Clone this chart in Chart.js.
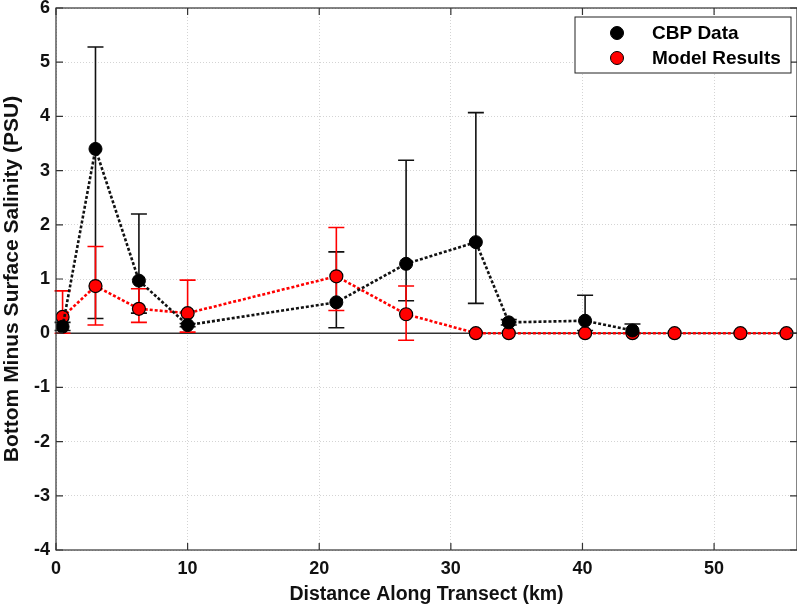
<!DOCTYPE html>
<html>
<head>
<meta charset="utf-8">
<script src="https://cdn.jsdelivr.net/npm/chart.js@4.4.0/dist/chart.umd.min.js"></script>
<style>
  html, body { margin: 0; padding: 0; background: #fff; }
  #wrap { width: 797px; height: 606px; }
</style>
</head>
<body>
<div id="wrap"><canvas id="salinityChart" width="797" height="606"></canvas></div>
<script>
// CBP observations
const cbpDistance = [0.5, 3.0, 6.3, 10.0, 21.3, 26.6, 31.9, 34.4, 40.2, 43.8];
const cbpValue    = [0.12, 3.40, 0.97, 0.15, 0.57, 1.28, 1.68, 0.20, 0.23, 0.05];
const cbpLow      = [0.05, 0.27, 0.37, 0.12, 0.10, 0.60, 0.55, 0.15, 0.05, 0.00];
const cbpHigh     = [0.20, 5.28, 2.20, 0.18, 1.50, 3.19, 4.07, 0.25, 0.70, 0.17];

// Model output
const modelDistance = [0.5, 3.0, 6.3, 10.0, 21.3, 26.6, 31.9, 34.4, 40.2, 43.8, 47.0, 52.0, 55.5];
const modelValue    = [0.30, 0.87, 0.45, 0.37, 1.05, 0.35, 0.00, 0.00, 0.00, 0.00, 0.00, 0.00, 0.00];
const modelLow      = [0.00, 0.15, 0.20, 0.02, 0.42, -0.13, 0, 0, 0, 0, 0, 0, 0];
const modelHigh     = [0.78, 1.60, 0.82, 0.98, 1.95, 0.87, 0, 0, 0, 0, 0, 0, 0];

const xTicks = [0, 10, 20, 30, 40, 50];
const yTicks = [-4, -3, -2, -1, 0, 1, 2, 3, 4, 5, 6];

const toPoints = (xs, ys) => xs.map((x, i) => ({ x: x, y: ys[i] }));

// zero line and error bars with caps, drawn through the chart scales
const errorBars = {
    id: 'errorBars',
    beforeDatasetsDraw(chart) {
        const ctx = chart.ctx;
        const a = chart.chartArea;
        const xs = chart.scales.x, ys = chart.scales.y;
        ctx.save();
        const y0 = ys.getPixelForValue(0);
        ctx.strokeStyle = '#333';
        ctx.lineWidth = 1.6;
        ctx.beginPath();
        ctx.moveTo(a.left, y0); ctx.lineTo(a.right, y0);
        ctx.stroke();
        chart.data.datasets.forEach(ds => {
            if (!ds.errLow) return;
            ctx.strokeStyle = ds.errColor;
            ctx.lineWidth = 1.6;
            ds.data.forEach((p, i) => {
                const lo = ds.errLow[i], hi = ds.errHigh[i];
                if (hi - lo < 0.01) return;
                const px = xs.getPixelForValue(p.x);
                const yl = ys.getPixelForValue(lo);
                const yh = ys.getPixelForValue(hi);
                ctx.beginPath();
                ctx.moveTo(px, yl); ctx.lineTo(px, yh);
                ctx.moveTo(px - 8, yl); ctx.lineTo(px + 8, yl);
                ctx.moveTo(px - 8, yh); ctx.lineTo(px + 8, yh);
                ctx.stroke();
            });
        });
        ctx.restore();
    }
};

// box around the axes plus inward tick marks and the legend box
const frameAndLegend = {
    id: 'frameAndLegend',
    afterDraw(chart) {
        const ctx = chart.ctx;
        const a = chart.chartArea;
        const xs = chart.scales.x, ys = chart.scales.y;
        ctx.save();
        ctx.strokeStyle = '#333';
        ctx.lineWidth = 1.2;
        ctx.strokeRect(a.left, a.top, a.right - a.left, a.bottom - a.top);
        ctx.beginPath();
        xTicks.forEach(v => {
            const px = xs.getPixelForValue(v);
            ctx.moveTo(px, a.bottom); ctx.lineTo(px, a.bottom - 7);
            ctx.moveTo(px, a.top); ctx.lineTo(px, a.top + 7);
        });
        yTicks.forEach(v => {
            const py = ys.getPixelForValue(v);
            ctx.moveTo(a.left, py); ctx.lineTo(a.left + 7, py);
            ctx.moveTo(a.right, py); ctx.lineTo(a.right - 7, py);
        });
        ctx.stroke();

        // legend
        const bx = 575, by = 17, bw = 216, bh = 56;
        ctx.fillStyle = '#fff';
        ctx.fillRect(bx, by, bw, bh);
        ctx.strokeStyle = '#222';
        ctx.lineWidth = 1;
        ctx.strokeRect(bx, by, bw, bh);
        ctx.font = 'bold 19px "Liberation Sans", Arial, sans-serif';
        ctx.textBaseline = 'middle';
        chart.data.datasets.forEach((ds, i) => {
            const cy = by + 16 + i * 25;
            ctx.beginPath();
            ctx.arc(bx + 42, cy, 6.5, 0, Math.PI * 2);
            ctx.fillStyle = ds.pointBackgroundColor;
            ctx.fill();
            ctx.strokeStyle = '#000';
            ctx.lineWidth = 1;
            ctx.stroke();
            ctx.fillStyle = '#000';
            ctx.fillText(ds.label, bx + 77, cy + 1);
        });
        ctx.restore();
    }
};

const tickFont = { family: '"Liberation Sans", Arial, sans-serif', size: 18, weight: 'bold' };

new Chart(document.getElementById('salinityChart').getContext('2d'), {
    type: 'scatter',
    data: {
        datasets: [
            {
                label: 'CBP Data',
                data: toPoints(cbpDistance, cbpValue),
                errLow: cbpLow,
                errHigh: cbpHigh,
                errColor: '#111',
                showLine: true,
                borderColor: '#111',
                borderWidth: 2.6,
                borderDash: [3, 2],
                pointRadius: 6.5,
                pointBackgroundColor: '#000',
                pointBorderColor: '#000',
                pointBorderWidth: 1
            },
            {
                label: 'Model Results',
                data: toPoints(modelDistance, modelValue),
                errLow: modelLow,
                errHigh: modelHigh,
                errColor: '#ff0000',
                showLine: true,
                borderColor: '#ff0000',
                borderWidth: 2.6,
                borderDash: [3, 2],
                pointRadius: 6.5,
                pointBackgroundColor: '#ff0000',
                pointBorderColor: '#000',
                pointBorderWidth: 1.2
            }
        ]
    },
    options: {
        responsive: false,
        animation: false,
        layout: { autoPadding: false, padding: { top: 8, right: 0, left: 0, bottom: 0 } },
        plugins: {
            legend: { display: false },
            tooltip: { enabled: false }
        },
        scales: {
            x: {
                type: 'linear',
                min: 0,
                max: 56.3,
                afterBuildTicks: s => { s.ticks = xTicks.map(v => ({ value: v })); },
                afterFit: s => { s.height = 56; s.paddingLeft = 0; s.paddingRight = 0; },
                grid: { color: '#d4d4d4', lineWidth: 1, drawTicks: false },
                border: { display: false, dash: [1, 2] },
                ticks: { color: '#111', font: tickFont, padding: 8, maxRotation: 0 },
                title: {
                    display: true,
                    text: 'Distance Along Transect (km)',
                    color: '#111',
                    font: { family: '"Liberation Sans", Arial, sans-serif', size: 19.5, weight: 'bold' },
                    padding: { top: 0, bottom: 0 }
                }
            },
            y: {
                type: 'linear',
                min: -4,
                max: 6,
                afterBuildTicks: s => { s.ticks = yTicks.map(v => ({ value: v })); },
                afterFit: s => { s.width = 56; s.paddingTop = 0; s.paddingBottom = 0; },
                grid: { color: '#d4d4d4', lineWidth: 1, drawTicks: false },
                border: { display: false, dash: [1, 2] },
                ticks: { color: '#111', font: tickFont, padding: 6 },
                title: {
                    display: true,
                    text: 'Bottom Minus Surface Salinity (PSU)',
                    color: '#111',
                    font: { family: '"Liberation Sans", Arial, sans-serif', size: 21, weight: 'bold' },
                    padding: { top: 0, bottom: 0 }
                }
            }
        }
    },
    plugins: [errorBars, frameAndLegend]
});
</script>
</body>
</html>
